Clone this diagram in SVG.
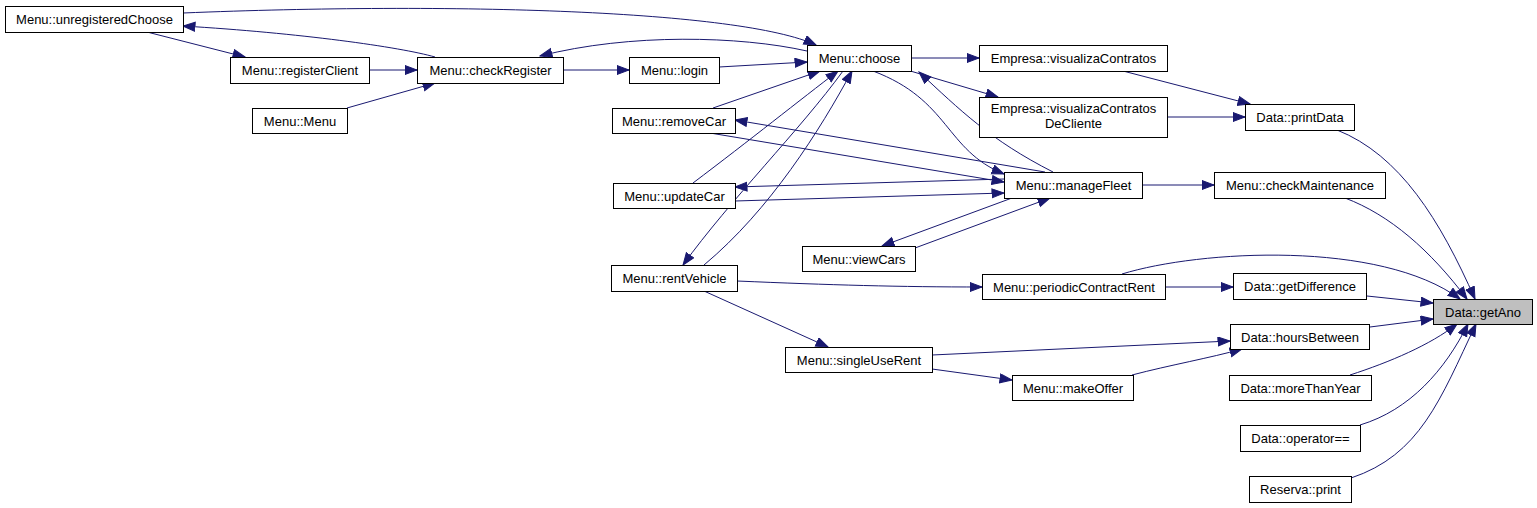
<svg xmlns="http://www.w3.org/2000/svg" width="1537" height="508" viewBox="0 0 1537 508">
<style>
.n rect{fill:#fff;stroke:#000;stroke-width:1}
.n text{font-family:"Liberation Sans",Arial,sans-serif;font-size:13px;fill:#000;text-anchor:middle}
#getAno rect{fill:#bfbfbf}
.e path{fill:none;stroke:#191970;stroke-width:1;marker-end:url(#ah)}
</style>
<defs>
<marker id="ah" markerUnits="userSpaceOnUse" markerWidth="14" markerHeight="11" refX="12.5" refY="5" orient="auto">
<path d="M0.5,0.5 L12.5,5 L0.5,9.5 z" fill="#191970" stroke="#191970" stroke-width="1"/>
</marker>
</defs>
<rect width="1537" height="508" fill="#fff"/>
<g class="e">
<path d="M183,13 C450,2 740,10 816,45"/>
<path d="M435,57 C400,47 300,33 183,26"/>
<path d="M147,32 L245,57"/>
<path d="M369,70 L417,70"/>
<path d="M347,108 L435,83"/>
<path d="M563,70 L629,70"/>
<path d="M807,51 C740,36 630,33 540,56"/>
<path d="M719,67 L807,62"/>
<path d="M713,108 L820,71"/>
<path d="M693,183 C750,140 800,100 838,71"/>
<path d="M843,71 C800,130 730,200 683,265"/>
<path d="M704,265 C770,210 820,130 852,71"/>
<path d="M911,58 L979,58"/>
<path d="M907,70 L998,97"/>
<path d="M873,71 C950,100 945,150 1004,174"/>
<path d="M1053,172 C990,140 960,110 919,72"/>
<path d="M710,133 L1004,182"/>
<path d="M1045,172 L735,120"/>
<path d="M1004,179 L735,187"/>
<path d="M735,201 L1004,193"/>
<path d="M1012,198 L882,246"/>
<path d="M915,248 L1050,198"/>
<path d="M1142,185 L1214,185"/>
<path d="M1123,71 L1250,104"/>
<path d="M1167,117 L1245,117"/>
<path d="M1337,130 C1400,155 1440,220 1475,299"/>
<path d="M1345,198 C1390,215 1430,250 1467,299"/>
<path d="M1122,274 C1200,250 1380,240 1460,299"/>
<path d="M737,281 C830,285 900,287 982,287"/>
<path d="M1165,287 L1233,287"/>
<path d="M1367,296 L1433,303"/>
<path d="M1370,327 L1433,319"/>
<path d="M704,291 L828,347"/>
<path d="M932,355 L1230,341"/>
<path d="M932,369 L1012,380"/>
<path d="M1132,375 C1170,365 1210,358 1242,349"/>
<path d="M1350,375 C1390,362 1430,345 1457,324"/>
<path d="M1360,425 C1410,410 1445,370 1468,324"/>
<path d="M1351,478 C1420,455 1440,400 1476,324"/>
</g>
<g id="unregisteredChoose" class="n"><rect x="5.5" y="6.5" width="178" height="26"/><text x="94.5" y="24">Menu::unregisteredChoose</text></g>
<g id="registerClient" class="n"><rect x="230.5" y="57.5" width="139" height="26"/><text x="300" y="75">Menu::registerClient</text></g>
<g id="menuMenu" class="n"><rect x="252.5" y="108.5" width="95" height="25"/><text x="300" y="125.5">Menu::Menu</text></g>
<g id="checkRegister" class="n"><rect x="417.5" y="57.5" width="146" height="26"/><text x="490.5" y="75">Menu::checkRegister</text></g>
<g id="login" class="n"><rect x="629.5" y="57.5" width="90" height="26"/><text x="674.5" y="75">Menu::login</text></g>
<g id="removeCar" class="n"><rect x="612.5" y="108.5" width="123" height="25"/><text x="674" y="125.5">Menu::removeCar</text></g>
<g id="updateCar" class="n"><rect x="613.5" y="183.5" width="122" height="25"/><text x="674.5" y="200.5">Menu::updateCar</text></g>
<g id="rentVehicle" class="n"><rect x="611.5" y="265.5" width="126" height="26"/><text x="674.5" y="283">Menu::rentVehicle</text></g>
<g id="choose" class="n"><rect x="807.5" y="45.5" width="104" height="26"/><text x="859.5" y="63">Menu::choose</text></g>
<g id="viewCars" class="n"><rect x="802.5" y="246.5" width="113" height="25"/><text x="859" y="263.5">Menu::viewCars</text></g>
<g id="singleUseRent" class="n"><rect x="785.5" y="347.5" width="147" height="25"/><text x="859" y="364.5">Menu::singleUseRent</text></g>
<g id="visualizaContratos" class="n"><rect x="979.5" y="45.5" width="188" height="26"/><text x="1073.5" y="63">Empresa::visualizaContratos</text></g>
<g id="visualizaContratosDeCliente" class="n"><rect x="979.5" y="97.5" width="188" height="40"/><text x="1073.5" y="113">Empresa::visualizaContratos</text><text x="1073.5" y="128">DeCliente</text></g>
<g id="manageFleet" class="n"><rect x="1004.5" y="172.5" width="138" height="26"/><text x="1073.5" y="190">Menu::manageFleet</text></g>
<g id="periodicContractRent" class="n"><rect x="982.5" y="274.5" width="183" height="25"/><text x="1074" y="291.5">Menu::periodicContractRent</text></g>
<g id="makeOffer" class="n"><rect x="1012.5" y="375.5" width="121" height="25"/><text x="1073" y="392.5">Menu::makeOffer</text></g>
<g id="printData" class="n"><rect x="1245.5" y="104.5" width="109" height="26"/><text x="1300" y="122">Data::printData</text></g>
<g id="checkMaintenance" class="n"><rect x="1214.5" y="172.5" width="171" height="26"/><text x="1300" y="190">Menu::checkMaintenance</text></g>
<g id="getDifference" class="n"><rect x="1233.5" y="273.5" width="133" height="26"/><text x="1300" y="291">Data::getDifference</text></g>
<g id="hoursBetween" class="n"><rect x="1230.5" y="324.5" width="139" height="25"/><text x="1300" y="341.5">Data::hoursBetween</text></g>
<g id="moreThanYear" class="n"><rect x="1229.5" y="375.5" width="142" height="25"/><text x="1300.5" y="392.5">Data::moreThanYear</text></g>
<g id="operatorEq" class="n"><rect x="1240.5" y="425.5" width="120" height="26"/><text x="1300.5" y="443">Data::operator==</text></g>
<g id="reservaPrint" class="n"><rect x="1249.5" y="476.5" width="102" height="26"/><text x="1300.5" y="494">Reserva::print</text></g>
<g id="getAno" class="n"><rect x="1433.5" y="299.5" width="99" height="25"/><text x="1483" y="316.5">Data::getAno</text></g>
</svg>
